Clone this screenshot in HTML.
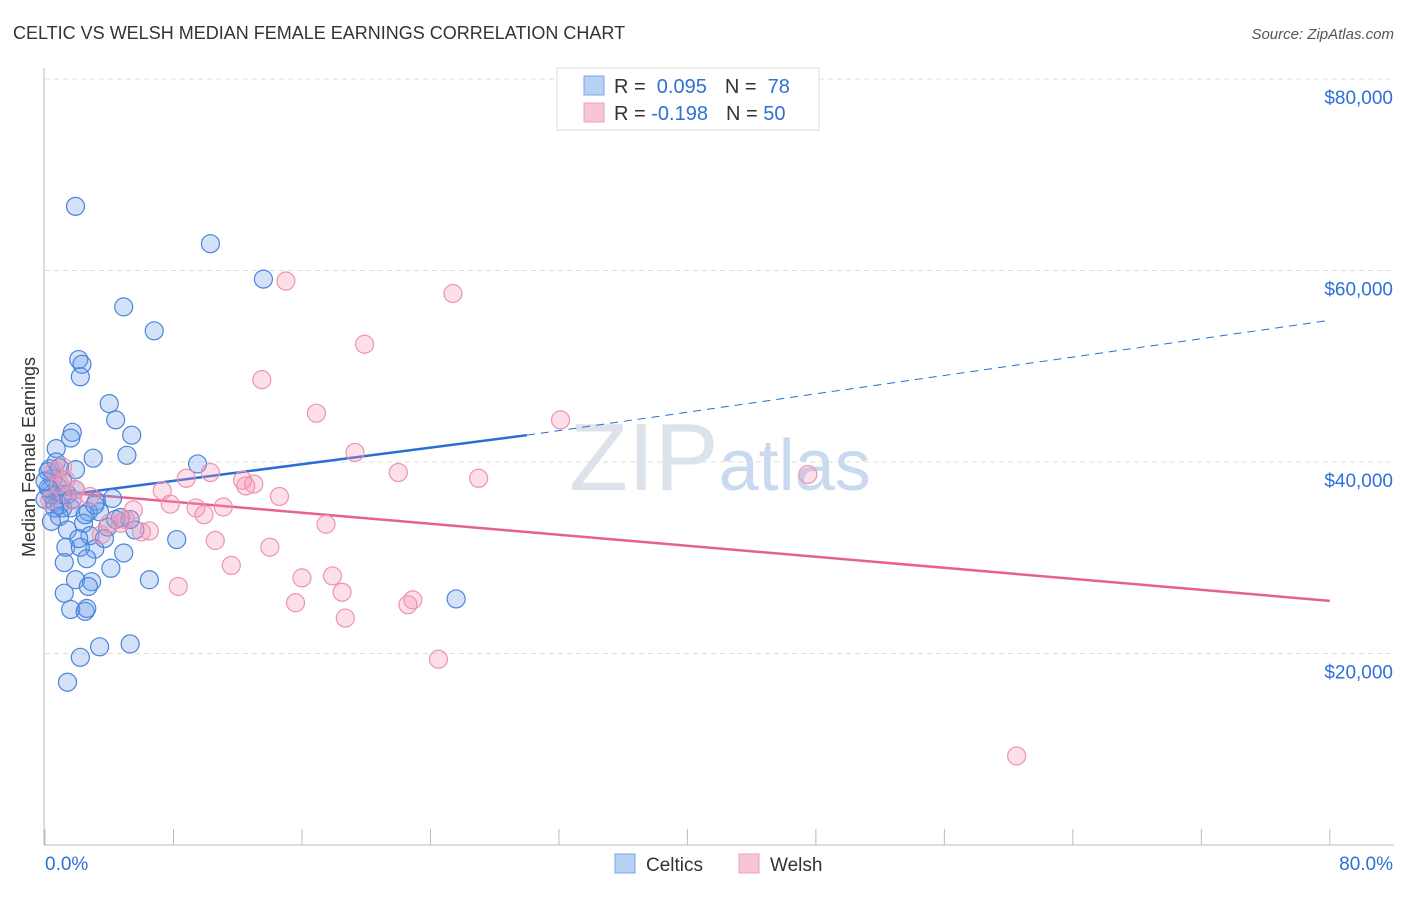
<!DOCTYPE html>
<html><head><meta charset="utf-8"><style>
body{margin:0;background:#fff;font-family:"Liberation Sans",sans-serif;}
svg text{font-family:"Liberation Sans",sans-serif;}
</style></head><body>
<svg id="chart" width="1406" height="892" xmlns="http://www.w3.org/2000/svg">
<text x="13" y="39" font-size="18" fill="#333">CELTIC VS WELSH MEDIAN FEMALE EARNINGS CORRELATION CHART</text>
<text x="1394" y="39" font-size="15" fill="#555" text-anchor="end" font-style="italic">Source: ZipAtlas.com</text>
<text transform="translate(35,457) rotate(-90)" font-size="18" fill="#333" text-anchor="middle">Median Female Earnings</text>
<text x="720" y="490" font-size="96" fill="#dde3ea" text-anchor="middle" font-family="Liberation Serif">ZIP<tspan fill="#c9daf0" font-family="Liberation Sans" font-size="72">atlas</tspan></text>
<g id="grid"></g><g id="axes"></g><g id="trends"></g><g id="points"></g>
<g>
<rect x="557" y="68" width="262" height="62" fill="#fff" stroke="#ddd"/>
<rect x="584" y="76" width="20" height="19" fill="#b8d0f4" stroke="#7aa5e6"/>
<rect x="584" y="103" width="20" height="19" fill="#f8c5d5" stroke="#eea0b8"/>
<text x="614" y="93" font-size="20" fill="#333">R = <tspan fill="#2f6fd6">&#160;0.095</tspan><tspan dx="18">N = </tspan><tspan fill="#2f6fd6">&#160;78</tspan></text>
<text x="614" y="120" font-size="20" fill="#333">R = <tspan fill="#2f6fd6">-0.198</tspan><tspan dx="18">N = </tspan><tspan fill="#2f6fd6">50</tspan></text>
</g>
<g>
<rect x="615" y="854" width="20" height="19" fill="#b8d0f4" stroke="#7aa5e6"/>
<text x="646" y="871" font-size="19" fill="#333">Celtics</text>
<rect x="739" y="854" width="20" height="19" fill="#f8c5d5" stroke="#eea0b8"/>
<text x="770" y="871" font-size="19" fill="#333">Welsh</text>
</g>
</svg>
<script>
const celticsX=[1.9,10.3,13.6,4.9,6.8,2.1,2.3,2.2,4.0,4.4,1.7,1.6,5.4,0.7,5.1,3.0,9.5,0.3,1.9,0.5,1.1,1.9,0.8,4.2,3.2,0.6,0.9,1.1,1.6,2.7,0.9,4.7,2.4,3.9,5.6,1.4,2.8,1.3,3.1,2.2,4.9,8.2,1.2,2.6,4.1,1.9,2.9,6.5,2.7,1.2,1.6,2.5,2.6,3.4,5.3,2.2,1.4,25.6,0.3,0.2,0.4,0.0,0.7,1.4,3.4,4.4,0.2,0.6,1.1,1.7,2.5,3.1,2.1,0.4,0.9,3.7,5.3,0.0];
const celticsY=[66.7,62.8,59.1,56.2,53.7,50.7,50.2,48.9,46.1,44.4,43.1,42.5,42.8,41.4,40.7,40.4,39.8,39.3,39.2,38.3,38.1,37.1,37.4,36.2,35.9,35.8,35.5,35.2,35.2,34.8,34.3,34.2,33.6,33.2,32.9,32.9,32.3,31.1,30.9,31.1,30.5,31.9,29.5,29.9,28.9,27.7,27.5,27.7,27.0,26.3,24.6,24.4,24.7,20.7,21.0,19.6,17.0,25.7,37.1,39.0,36.6,36.1,40.0,36.6,34.8,34.0,37.3,35.2,36.6,36.1,34.5,35.5,32.0,33.8,39.4,32.0,34.0,38.0];
const welshX=[15.0,25.4,19.9,13.5,16.9,32.1,19.3,1.1,10.3,8.8,1.3,22.0,27.0,47.5,12.3,13.0,12.5,7.3,14.6,7.8,11.1,9.4,9.9,5.5,1.7,5.0,4.7,6.5,6.0,3.5,17.5,10.6,11.6,14.0,16.0,17.9,8.3,15.6,18.5,22.9,22.6,18.7,24.5,60.5,0.6,0.9,2.8,1.9,4.0,0.3];
const welshY=[58.9,57.6,52.3,48.6,45.1,44.4,41.0,39.5,38.9,38.3,38.1,38.9,38.3,38.7,38.1,37.7,37.5,37.0,36.4,35.6,35.3,35.2,34.5,35.0,36.0,34.0,33.6,32.8,32.7,32.4,33.5,31.8,29.2,31.1,27.9,28.1,27.0,25.3,26.4,25.6,25.1,23.7,19.4,9.3,39.1,37.7,36.4,37.1,33.6,36.0];
const trendBlueX=[0,30,80], trendBlueY=[36.3,42.8,54.8];
const trendPinkX=[0,80], trendPinkY=[37.0,25.5];
const yTicks=[20000,40000,60000,80000];
const yTickLabels=["$20,000","$40,000","$60,000","$80,000"];
const xTicks=[0,8,16,24,32,40,48,56,64,72,80];
const xEndLabels=["0.0%","80.0%"];
const NS="http://www.w3.org/2000/svg";
const sx=v=>45+v*16.06, sy=v=>845-v*9.575; // v in $k
function mk(tag,attrs,parent){const e=document.createElementNS(NS,tag);for(const k in attrs)e.setAttribute(k,attrs[k]);parent.appendChild(e);return e;}
const grid=document.getElementById('grid'),axes=document.getElementById('axes'),tr=document.getElementById('trends'),pts=document.getElementById('points');
yTicks.forEach((t,i)=>{
  const l=mk('line',{x1:45,x2:1394,y1:sy(t/1000),y2:sy(t/1000),stroke:'#ddd','stroke-dasharray':'5,4'},grid);
  
  
  const tx=mk('text',{x:1393,y:sy(t/1000)+25,'font-size':19,fill:'#2f6fd6','text-anchor':'end'},axes);
  tx.textContent=yTickLabels[i];
  
  
});
const ax=mk('line',{x1:44,x2:44,y1:68,y2:845,stroke:'#bbb'},axes);


const bx=mk('line',{x1:44,x2:1394,y1:845,y2:845,stroke:'#bbb'},axes);


xTicks.forEach(t=>{
  const l=mk('line',{x1:sx(t),x2:sx(t),y1:829,y2:845,stroke:'#bbb'},axes);
  
  
});
const xl0=mk('text',{x:45,y:870,'font-size':19,fill:'#2f6fd6'},axes);xl0.textContent=xEndLabels[0];


const xl1=mk('text',{x:1393,y:870,'font-size':19,fill:'#2f6fd6','text-anchor':'end'},axes);xl1.textContent=xEndLabels[1];


function dot(x,y,fill,stroke,name){const c=mk('circle',{cx:sx(x),cy:sy(y),r:9,fill:fill,stroke:stroke,'stroke-width':1.2},pts);
  
  }
celticsX.forEach((x,i)=>dot(x,celticsY[i],'rgba(110,160,235,0.3)','#4a84dc','celtics-point'));
welshX.forEach((x,i)=>dot(x,welshY[i],'rgba(245,150,180,0.3)','#ec94b0','welsh-point'));
const b1=mk('line',{x1:sx(trendBlueX[0]),y1:sy(trendBlueY[0]),x2:sx(trendBlueX[1]),y2:sy(trendBlueY[1]),stroke:'#2a6dd6','stroke-width':2.5},tr);


const b2=mk('line',{x1:sx(trendBlueX[1]),y1:sy(trendBlueY[1]),x2:sx(trendBlueX[2]),y2:sy(trendBlueY[2]),stroke:'#2a6dd6','stroke-width':1,'stroke-dasharray':'8,6'},tr);


const p1=mk('line',{x1:sx(trendPinkX[0]),y1:sy(trendPinkY[0]),x2:sx(trendPinkX[1]),y2:sy(trendPinkY[1]),stroke:'#e8608f','stroke-width':2.5},tr);


</script>
</body></html>
